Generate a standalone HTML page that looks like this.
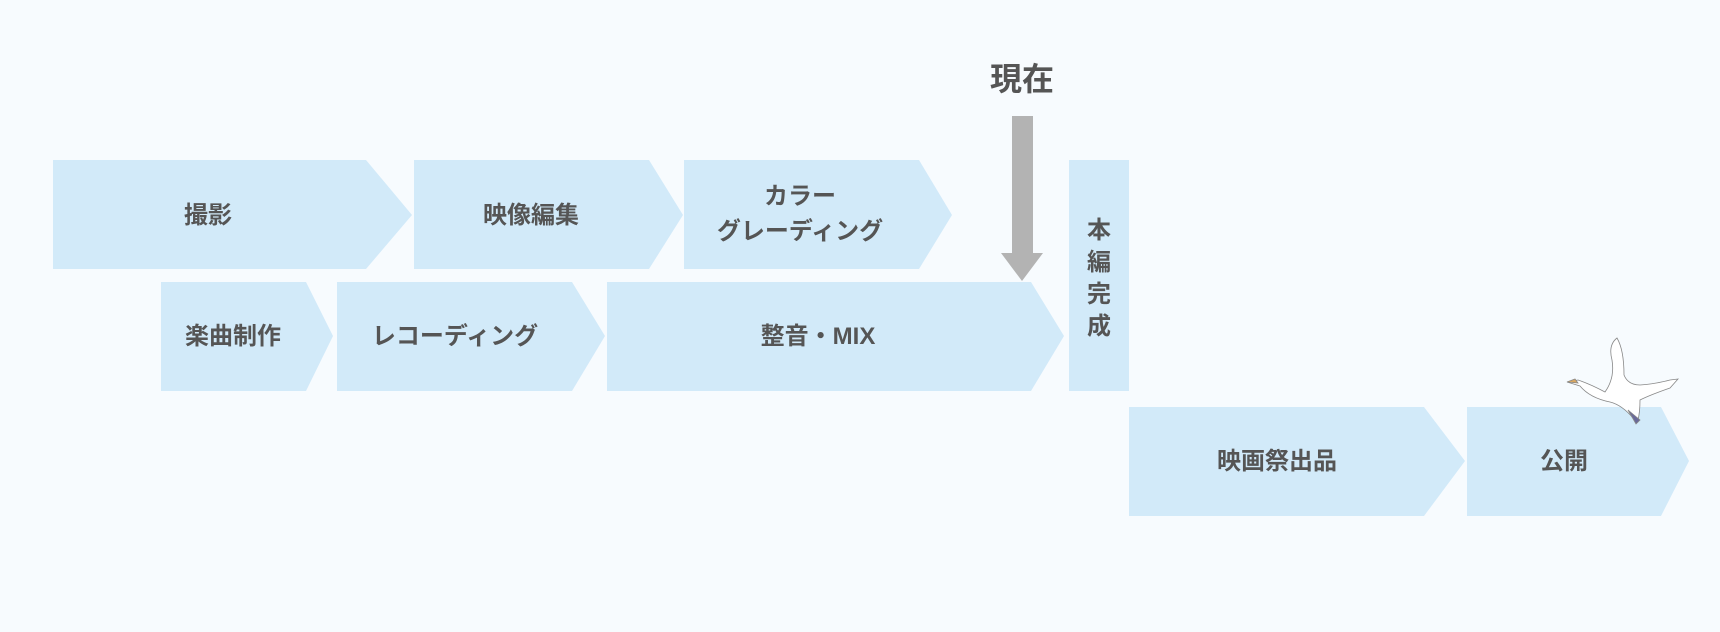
<!DOCTYPE html>
<html><head><meta charset="utf-8"><style>
html,body{margin:0;padding:0;background:#f7fbfe;}
svg{display:block}
text{font-family:"Liberation Sans","Noto Sans CJK JP",sans-serif;font-weight:bold;fill:#555;}
</style></head><body>
<svg width="1720" height="632" viewBox="0 0 1720 632" xmlns="http://www.w3.org/2000/svg">
<rect width="1720" height="632" fill="#f7fbfe"/>
<g fill="#d2eaf9">
<polygon points="53,160 366,160 412,215 366,269 53,269"/>
<polygon points="414,160 649,160 683,215 649,269 414,269"/>
<polygon points="684,160 919,160 952,215 919,269 684,269"/>
<polygon points="161,282 306,282 333,336 306,391 161,391"/>
<polygon points="337,282 572,282 605,336 572,391 337,391"/>
<polygon points="607,282 1031,282 1064,336 1031,391 607,391"/>
<rect x="1069" y="160" width="60" height="231"/>
<polygon points="1129,407 1424,407 1465,461 1424,516 1129,516"/>
<polygon points="1467,407 1661,407 1689,461 1661,516 1467,516"/>
</g>
<g font-size="24" text-anchor="middle">
<text x="208" y="223">撮影</text>
<text x="531" y="223">映像編集</text>
<text x="800" y="204">カラー</text>
<text x="800" y="239">グレーディング</text>
<text x="233" y="344">楽曲制作</text>
<text x="455" y="344">レコーディング</text>
<text x="818" y="344">整音・MIX</text>
<text x="1099" y="238">本</text>
<text x="1099" y="270">編</text>
<text x="1099" y="302">完</text>
<text x="1099" y="334">成</text>
<text x="1277" y="469">映画祭出品</text>
<text x="1564" y="469">公開</text>
</g>
<text x="1022" y="90" font-size="32" text-anchor="middle">現在</text>
<rect x="1012" y="116" width="21" height="138" fill="#b3b3b3"/>
<polygon points="1001,253 1043,253 1022,281" fill="#b3b3b3"/>
<g stroke="#888" stroke-width="0.8" fill="#fff">
<path d="M1567,382 L1578,380 Q1590,384 1605,392 Q1615,378 1612,360 Q1608,345 1617,338 Q1624,350 1624,375 Q1628,385 1640,385 Q1655,384 1670,380 L1678,379 L1670,388 Q1650,395 1640,400 Q1640,412 1638,420 L1633,418 Q1622,405 1610,402 Q1590,398 1580,386 Z"/>
<path d="M1567,382 L1575,379 L1578,383 Z" fill="#d9a760"/>
<path d="M1628,410 L1640,420 L1636,424 Z" fill="#6a6a9a"/>
</g>
</svg>
</body></html>
